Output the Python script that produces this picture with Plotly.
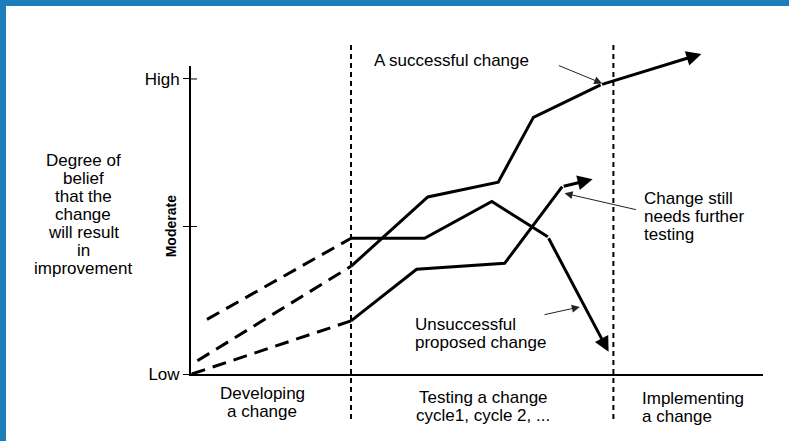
import plotly.graph_objects as go

# ---------------- data (x: time units, y: degree of belief 0=Low, 1=Moderate, 2=High)
phase_bounds = [10.0, 26.4]
y_tick_vals = [0, 1, 2]
y_tick_text = ["Low", "", "High"]

dev_top_x = [1.0, 10.0]
dev_top_y = [0.37, 0.92]
dev_mid_x = [0.4, 10.0]
dev_mid_y = [0.09, 0.73]
dev_low_x = [0.05, 10.0]
dev_low_y = [0.0, 0.36]

success_x = [10.0, 14.8, 19.2, 21.4, 25.6, 31.9]
success_y = [0.73, 1.20, 1.30, 1.74, 1.96, 2.17]

unsuccess_x = [10.0, 14.6, 18.8, 22.3, 26.1]
unsuccess_y = [0.92, 0.92, 1.17, 0.93, 0.15]

further_x = [10.0, 14.1, 19.6, 23.2, 25.1]
further_y = [0.36, 0.71, 0.75, 1.27, 1.32]

left_title = ["Degree of", "belief", "that the", "change", "will result", "in", "improvement"]
right_note = ["Change still", "needs further", "testing"]
bottom_note = ["Unsuccessful", "proposed change"]
phase_labels = [
    (["Developing", "a change"], 4.45, -0.193, "center"),
    (["Testing a change", "cycle1, cycle 2, ..."], 18.25, -0.217, "center"),
    (["Implementing", "a change"], 28.05, -0.230, "left"),
]

# ---------------- figure geometry
W, H = 789, 441
ML, MR, MT, MB = 191, 26, 66, 67
X_MAX, Y_MAX = 35.75, 2.088
FONT = "Liberation Sans, Arial, Helvetica, sans-serif"
FS = 17
LINE_STEP = 0.122  # line spacing of stacked labels, in y units
BLUE = "#1B7DBA"
plot_w = W - ML - MR
plot_h = H - MT - MB

def px_to_paper_x(px):
    return (px - ML) / plot_w

def px_to_paper_y(py):
    return (H - MB - py) / plot_h

fig = go.Figure()

dash_style = dict(color="black", width=3, dash="14px,8px")
for xs, ys in [(dev_top_x, dev_top_y), (dev_mid_x, dev_mid_y), (dev_low_x, dev_low_y)]:
    fig.add_trace(go.Scatter(x=xs, y=ys, mode="lines", line=dash_style,
                             hoverinfo="skip", showlegend=False))

solid = dict(color="black", width=3)
annotations = []
for xs, ys in [(success_x, success_y), (unsuccess_x, unsuccess_y), (further_x, further_y)]:
    fig.add_trace(go.Scatter(x=xs[:-1], y=ys[:-1], mode="lines", line=solid,
                             hoverinfo="skip", showlegend=False))
    annotations.append(dict(x=xs[-1], y=ys[-1], ax=xs[-2], ay=ys[-2],
                            xref="x", yref="y", axref="x", ayref="y",
                            text="", showarrow=True, arrowhead=2, arrowsize=1.0,
                            arrowwidth=3, arrowcolor="black"))

# thin pointer arrows (tail -> tip)
pointers = [((22.9, 2.095), (25.7, 1.97)),
            ((27.9, 1.112), (23.35, 1.225)),
            ((22.0, 0.40), (24.3, 0.455))]
for (tx, ty), (hx, hy) in pointers:
    annotations.append(dict(x=hx, y=hy, ax=tx, ay=ty, xref="x", yref="y",
                            axref="x", ayref="y", text="", showarrow=True,
                            arrowhead=2, arrowsize=1.6, arrowwidth=1,
                            arrowcolor="#222"))

def txt(x, y, s, anchor="left", size=FS, **kw):
    # positions given in data units, placed through paper refs so they may sit outside the axes
    d = dict(x=x / X_MAX, y=y / Y_MAX, xref="paper", yref="paper", text=s,
             showarrow=False, xanchor=anchor, yanchor="middle",
             font=dict(family=FONT, size=size, color="black"))
    d.update(kw)
    annotations.append(d)

def block(lines, x, yc, anchor="left"):
    n = len(lines)
    for i, s in enumerate(lines):
        txt(x, yc + ((n - 1) / 2 - i) * LINE_STEP, s, anchor=anchor)

txt(11.3, 2.122, "A successful change")
block(right_note, 28.2, 1.068)
block(bottom_note, 13.85, 0.275)
block(left_title, -6.75, 1.078, anchor="center")
txt(-1.2, 1.0, "<b>Moderate</b>", anchor="center", size=14, textangle=-90)
for lines, xc, yc, anc in phase_labels:
    block(lines, xc, yc, anchor=anc)

shapes = []
# phase boundaries
for xb in phase_bounds:
    shapes.append(dict(type="line", xref="x", yref="paper", x0=xb, x1=xb,
                       y0=px_to_paper_y(45), y1=px_to_paper_y(421),
                       line=dict(color="black", width=2, dash="5px,4px")))
# inner half of y ticks
for tv in y_tick_vals:
    shapes.append(dict(type="line", xref="paper", yref="y", x0=0,
                       x1=px_to_paper_x(ML + 6), y0=tv, y1=tv,
                       line=dict(color="black", width=1)))
# blue frame (top and left)
shapes.append(dict(type="rect", xref="paper", yref="paper",
                   x0=px_to_paper_x(0), x1=px_to_paper_x(W),
                   y0=px_to_paper_y(6), y1=px_to_paper_y(0),
                   fillcolor=BLUE, line=dict(width=0), layer="above"))
shapes.append(dict(type="rect", xref="paper", yref="paper",
                   x0=px_to_paper_x(0), x1=px_to_paper_x(6),
                   y0=px_to_paper_y(H), y1=px_to_paper_y(0),
                   fillcolor=BLUE, line=dict(width=0), layer="above"))

fig.update_layout(
    width=W, height=H,
    margin=dict(l=ML, r=MR, t=MT, b=MB),
    paper_bgcolor="white", plot_bgcolor="white",
    showlegend=False,
    xaxis=dict(range=[0, X_MAX], showgrid=False, zeroline=False,
               showline=True, linecolor="black", linewidth=2,
               showticklabels=False, ticks=""),
    yaxis=dict(range=[0, Y_MAX], showgrid=False, zeroline=False,
               showline=True, linecolor="black", linewidth=2,
               tickvals=y_tick_vals, ticktext=y_tick_text,
               ticks="outside", ticklen=6, tickwidth=1, tickcolor="black",
               tickfont=dict(family=FONT, size=FS, color="black")),
    annotations=annotations,
    shapes=shapes,
)

fig.write_html("out.html", config={"displayModeBar": False},
               post_script="document.body.style.margin='0';document.body.style.overflow='hidden';")
